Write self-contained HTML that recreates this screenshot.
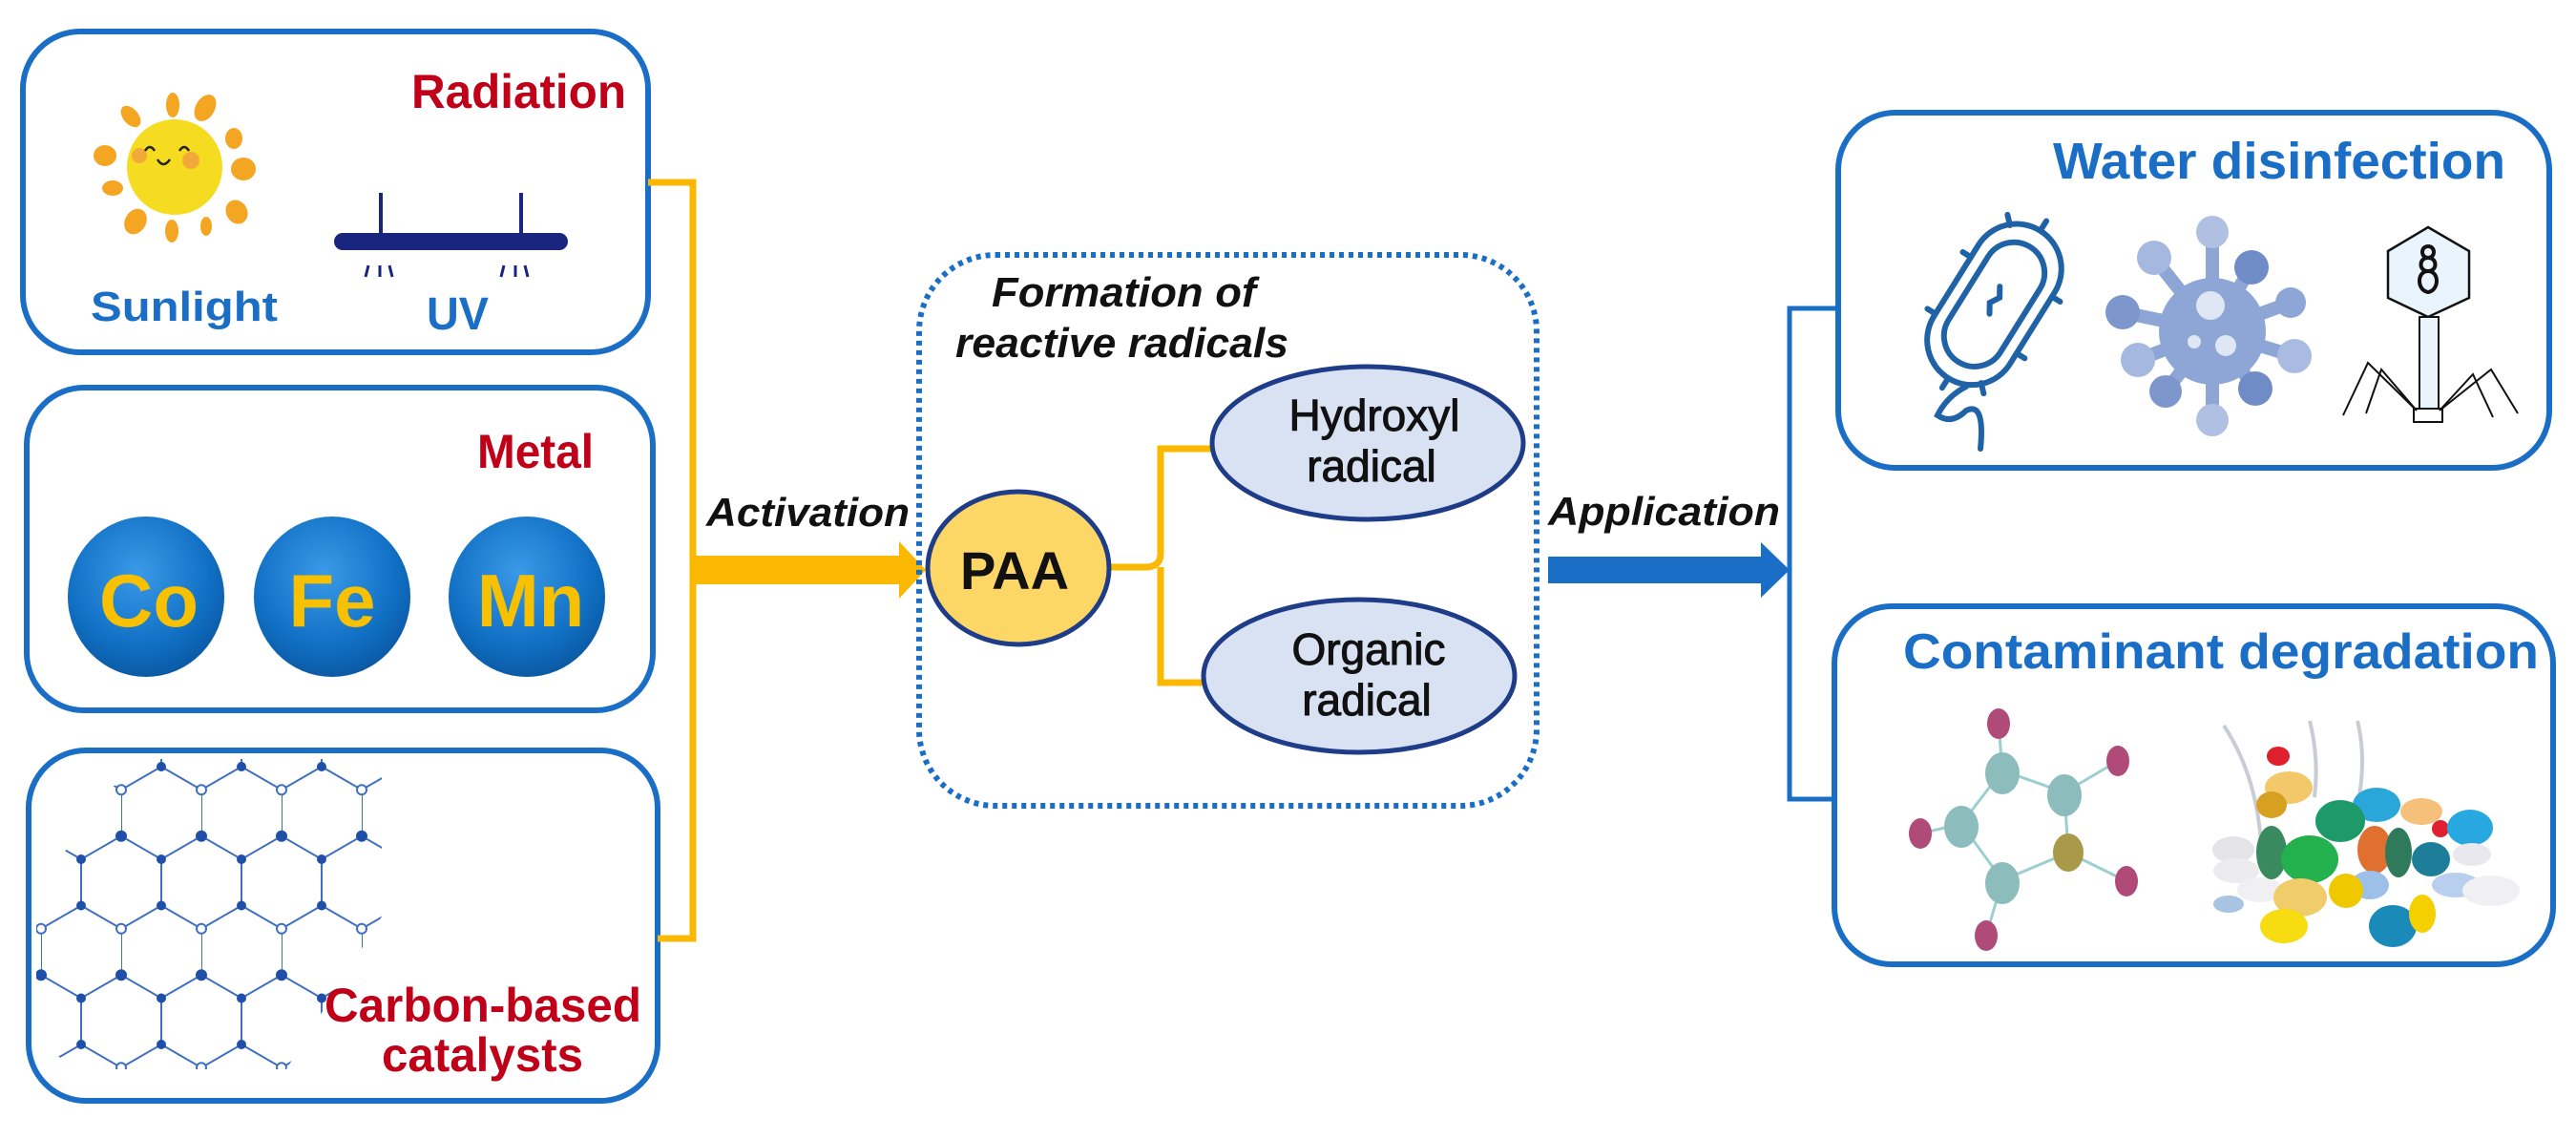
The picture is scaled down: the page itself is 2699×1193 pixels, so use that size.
<!DOCTYPE html>
<html><head><meta charset="utf-8"><style>
html,body{margin:0;padding:0;background:#fff;}
svg{display:block;}
text{font-family:"Liberation Sans",Arial,sans-serif;}
</style></head><body>
<svg width="2699" height="1193" viewBox="0 0 2699 1193" xmlns="http://www.w3.org/2000/svg">
<defs>
<radialGradient id="mg" cx="45%" cy="35%" r="65%">
<stop offset="0" stop-color="#3a9ae8"/><stop offset="0.7" stop-color="#1170c4"/><stop offset="1" stop-color="#0b5aa6"/>
</radialGradient>
<pattern id="hex" x="43" y="803" width="84" height="145.5" patternUnits="userSpaceOnUse">
<path d="M0,24.25 L42,0 L84,24.25 M0,24.25 V72.75 L42,97 L84,72.75 M42,97 V145.5" fill="none" stroke="#3f6fc0" stroke-width="2"/>
<circle cx="42" cy="0" r="5" fill="#1f4fa8"/><circle cx="0" cy="24.25" r="5" fill="#fff" stroke="#3f6fc0" stroke-width="2"/>
<circle cx="84" cy="24.25" r="5" fill="#fff" stroke="#3f6fc0" stroke-width="2"/>
<circle cx="0" cy="72.75" r="6" fill="#1f4fa8"/><circle cx="84" cy="72.75" r="6" fill="#1f4fa8"/>
<circle cx="42" cy="97" r="5" fill="#1f4fa8"/><circle cx="42" cy="145.5" r="5" fill="#1f4fa8"/>
</pattern>
<clipPath id="latclip"><polygon points="125,795 400,795 400,960 350,1040 300,1120 80,1120 38,1090 38,920 80,880 90,840 125,820"/></clipPath>
</defs>

<!-- Left boxes -->
<g fill="none" stroke="#1a6ec6" stroke-width="6">
<rect x="24" y="33" width="655" height="336" rx="60"/>
<rect x="28" y="406" width="656" height="338" rx="60"/>
<rect x="30" y="786" width="659" height="367" rx="60"/>
</g>
<text x="431" y="113" font-size="50" font-weight="bold" fill="#c00018" textLength="225" lengthAdjust="spacingAndGlyphs">Radiation</text>
<!-- sun -->
<g fill="#f4a623">
<ellipse cx="181" cy="110" rx="7" ry="13"/><ellipse cx="215" cy="113" rx="10" ry="15" transform="rotate(30 215 113)"/>
<ellipse cx="137" cy="122" rx="8" ry="13" transform="rotate(-40 137 122)"/><ellipse cx="245" cy="145" rx="9" ry="11"/>
<ellipse cx="110" cy="163" rx="12" ry="11"/><ellipse cx="255" cy="177" rx="13" ry="12"/>
<ellipse cx="118" cy="197" rx="11" ry="8"/><ellipse cx="248" cy="222" rx="11" ry="13" transform="rotate(-30 248 222)"/>
<ellipse cx="142" cy="232" rx="11" ry="14" transform="rotate(30 142 232)"/><ellipse cx="180" cy="242" rx="7" ry="12"/><ellipse cx="216" cy="237" rx="6" ry="10"/>
</g>
<circle cx="183" cy="175" r="50" fill="#f6dc20"/>
<circle cx="146" cy="163" r="8" fill="#f3a93a"/><circle cx="200" cy="168" r="9" fill="#f3a93a"/>
<path d="M152 158 q5 -8 10 0 M188 158 q5 -8 10 0 M165 167 q6 10 13 0" fill="none" stroke="#222" stroke-width="2.5"/>
<!-- UV lamp -->
<rect x="350" y="244" width="245" height="18" rx="9" fill="#1a2580"/>
<rect x="397" y="202" width="4" height="44" fill="#1a2580"/><rect x="544" y="202" width="4" height="44" fill="#1a2580"/>
<path d="M386 278 l-3 12 M398 278 v12 M408 278 l3 12 M528 278 l-3 12 M540 278 v12 M550 278 l3 12" stroke="#1a2580" stroke-width="3"/>
<text x="95" y="336" font-size="44" font-weight="bold" fill="#1a6ec6" textLength="196" lengthAdjust="spacingAndGlyphs">Sunlight</text>
<text x="447" y="345" font-size="48" font-weight="bold" fill="#1a6ec6" textLength="65" lengthAdjust="spacingAndGlyphs">UV</text>

<text x="500" y="490" font-size="50" font-weight="bold" fill="#c00018" textLength="122" lengthAdjust="spacingAndGlyphs">Metal</text>
<ellipse cx="153" cy="625" rx="82" ry="84" fill="url(#mg)"/>
<ellipse cx="348" cy="625" rx="82" ry="84" fill="url(#mg)"/>
<ellipse cx="552" cy="625" rx="82" ry="84" fill="url(#mg)"/>
<g font-size="78" font-weight="bold" fill="#f7c000" text-anchor="middle">
<text x="156" y="656">Co</text><text x="348" y="656">Fe</text><text x="556" y="656">Mn</text>
</g>

<rect x="30" y="790" width="380" height="340" fill="url(#hex)" clip-path="url(#latclip)"/>
<text x="340" y="1070" font-size="50" font-weight="bold" fill="#c00018" textLength="332" lengthAdjust="spacingAndGlyphs">Carbon-based</text>
<text x="400" y="1122" font-size="50" font-weight="bold" fill="#c00018" textLength="211" lengthAdjust="spacingAndGlyphs">catalysts</text>

<!-- yellow bracket & arrow -->
<path d="M679 191 H726 V983 H689" fill="none" stroke="#fbb800" stroke-width="7"/>
<rect x="726" y="582" width="218" height="30" fill="#fbb800"/>
<polygon points="942,567 970,597 942,627" fill="#fbb800"/>
<text x="740" y="551" font-size="42" font-weight="bold" font-style="italic" fill="#111" textLength="213" lengthAdjust="spacingAndGlyphs">Activation</text>

<!-- dotted box -->
<rect x="963" y="267" width="647" height="577" rx="80" fill="none" stroke="#1a6ec6" stroke-width="6" stroke-dasharray="5 5"/>
<text x="1039" y="321" font-size="44" font-weight="bold" font-style="italic" fill="#111" textLength="277" lengthAdjust="spacingAndGlyphs">Formation of</text>
<text x="1001" y="374" font-size="44" font-weight="bold" font-style="italic" fill="#111" textLength="349" lengthAdjust="spacingAndGlyphs">reactive radicals</text>
<path d="M1163 594 H1200 Q1216 594 1216 580 V470 H1270 M1216 594 V715 H1262" fill="none" stroke="#fbb800" stroke-width="7"/>
<ellipse cx="1067" cy="595" rx="95" ry="80" fill="#fdd766" stroke="#1f3c88" stroke-width="5"/>
<text x="1063" y="617" font-size="56" font-weight="bold" fill="#111" text-anchor="middle">PAA</text>
<ellipse cx="1433" cy="464" rx="163" ry="80" fill="#d8e2f3" stroke="#1f3c88" stroke-width="5"/>
<ellipse cx="1424" cy="708" rx="163" ry="80" fill="#d8e2f3" stroke="#1f3c88" stroke-width="5"/>
<g font-size="46" fill="#111" stroke="#111" stroke-width="1" text-anchor="middle">
<text x="1440" y="451">Hydroxyl</text><text x="1437" y="504">radical</text>
<text x="1434" y="696">Organic</text><text x="1432" y="749">radical</text>
</g>

<!-- application arrow -->
<text x="1622" y="550" font-size="42" font-weight="bold" font-style="italic" fill="#111" textLength="243" lengthAdjust="spacingAndGlyphs">Application</text>
<rect x="1622" y="583" width="226" height="28" fill="#1a6ec6"/>
<polygon points="1845,568 1875,597 1845,626" fill="#1a6ec6"/>
<path d="M1926 323 H1875 V837 H1922" fill="none" stroke="#1a6ec6" stroke-width="5"/>

<!-- right boxes -->
<g fill="none" stroke="#1a6ec6" stroke-width="6">
<rect x="1926" y="118" width="745" height="372" rx="60"/>
<rect x="1922" y="635" width="753" height="375" rx="60"/>
</g>
<text x="2151" y="187" font-size="54" font-weight="bold" fill="#1a6ec6" textLength="474" lengthAdjust="spacingAndGlyphs">Water disinfection</text>
<text x="1994" y="700" font-size="52" font-weight="bold" fill="#1a6ec6" textLength="666" lengthAdjust="spacingAndGlyphs">Contaminant degradation</text>

<!-- bacterium -->
<g transform="rotate(32 2090 318)" fill="none" stroke="#1f62a6" stroke-width="6" stroke-linecap="round">
<rect x="2043" y="228" width="94" height="182" rx="47"/>
<rect x="2058" y="248" width="64" height="142" rx="32"/>
<path d="M2090 228 v-12 M2137 280 h10 M2137 350 h10 M2043 290 h-10 M2043 360 h-10 M2090 410 v12 M2060 240 l-8 -8 M2122 396 l8 8"/>
<path d="M2085 300 l6 10 l-6 10 l6 10"/>
</g>
<path d="M2060 405 q-20 10 -30 30 q15 10 30 -5 q20 -10 15 40" fill="none" stroke="#1f62a6" stroke-width="6" stroke-linecap="round"/>
<!-- virus -->
<g fill="#8ea6d6">
<g stroke="#8ea6d6" stroke-width="14">
<path d="M2318 347 L2318 243 M2318 347 L2257 270 M2318 347 L2359 280 M2318 347 L2224 327 M2318 347 L2400 317 M2318 347 L2240 377 M2318 347 L2404 373 M2318 347 L2269 410 M2318 347 L2363 407 M2318 347 L2318 440"/>
</g>
<circle cx="2318" cy="243" r="17" fill="#b0c0e2"/><circle cx="2257" cy="270" r="18" fill="#a5b8e0"/><circle cx="2359" cy="280" r="18" fill="#6f8cc6"/>
<circle cx="2224" cy="327" r="18" fill="#7d96cc"/><circle cx="2400" cy="317" r="16" fill="#8ea6d6"/><circle cx="2240" cy="377" r="18" fill="#a5b8e0"/>
<circle cx="2404" cy="373" r="18" fill="#a9bbe1"/><circle cx="2269" cy="410" r="17" fill="#7d96cc"/><circle cx="2363" cy="407" r="18" fill="#6f8cc6"/>
<circle cx="2318" cy="440" r="17" fill="#b0c0e2"/>
<circle cx="2318" cy="347" r="56"/>
</g>
<circle cx="2316" cy="320" r="15" fill="#dfe6f4"/><circle cx="2332" cy="362" r="11" fill="#dfe6f4"/><circle cx="2299" cy="358" r="7" fill="#dfe6f4"/>
<!-- phage -->
<polygon points="2544,238 2587,263 2587,312 2544,332 2502,312 2502,263" fill="#eaf4fd" stroke="#111" stroke-width="2.5"/>
<path d="M2544 258 c-8 0 -8 12 0 12 c-10 0 -10 14 0 14 c-12 0 -12 20 0 22 c12 -2 12 -22 0 -22 c10 0 10 -14 0 -14 c8 0 8 -12 0 -12" fill="none" stroke="#111" stroke-width="4"/>
<rect x="2535" y="332" width="20" height="98" fill="#eaf4fd" stroke="#111" stroke-width="2"/>
<rect x="2529" y="428" width="30" height="14" fill="#fff" stroke="#111" stroke-width="2"/>
<path d="M2532 430 L2481 380 L2455 435 M2532 430 L2495 387 L2479 433 M2556 430 L2591 392 L2612 437 M2556 430 L2610 387 L2638 433" fill="none" stroke="#111" stroke-width="2"/>

<!-- molecule -->
<g stroke-width="3">
<path d="M2094 758 L2098 807 L2163 830 L2219 797 M2098 807 L2055 863 L2012 873 M2163 830 L2167 893 L2228 923 M2167 893 L2098 922 L2055 863 M2098 922 L2081 980" stroke="#9ccfd0" fill="none"/>
</g>
<g fill="#b04a78"><ellipse cx="2094" cy="758" rx="12" ry="16"/><ellipse cx="2219" cy="797" rx="12" ry="16"/><ellipse cx="2012" cy="873" rx="12" ry="16"/><ellipse cx="2228" cy="923" rx="12" ry="16"/><ellipse cx="2081" cy="980" rx="12" ry="16"/></g>
<g fill="#8cbcbc"><ellipse cx="2098" cy="810" rx="18" ry="22"/><ellipse cx="2163" cy="833" rx="18" ry="22"/><ellipse cx="2055" cy="866" rx="18" ry="22"/><ellipse cx="2098" cy="925" rx="18" ry="22"/></g>
<ellipse cx="2167" cy="893" rx="16" ry="20" fill="#a89a48"/>

<!-- pills -->
<g>
<path d="M2330 760 q40 60 40 150 M2420 755 q10 40 5 80 M2470 755 q10 40 0 90" fill="none" stroke="#c8ccd4" stroke-width="4"/>
<ellipse cx="2340" cy="890" rx="22" ry="14" fill="#e4e4e8"/><ellipse cx="2343" cy="912" rx="24" ry="13" fill="#ececef"/>
<ellipse cx="2335" cy="947" rx="16" ry="9" fill="#a8c4e2"/><ellipse cx="2368" cy="932" rx="24" ry="13" fill="#f0f0f2"/>
<ellipse cx="2387" cy="792" rx="12" ry="10" fill="#e0202c"/><ellipse cx="2398" cy="825" rx="25" ry="17" fill="#f2c86a"/>
<ellipse cx="2380" cy="843" rx="16" ry="14" fill="#d8a020"/><ellipse cx="2380" cy="893" rx="16" ry="28" fill="#3a8a60"/>
<ellipse cx="2490" cy="843" rx="25" ry="18" fill="#2aa6d8"/><ellipse cx="2537" cy="850" rx="22" ry="14" fill="#f5c07a"/>
<ellipse cx="2557" cy="868" rx="9" ry="9" fill="#e02030"/><ellipse cx="2588" cy="867" rx="24" ry="19" fill="#28a8e0"/>
<ellipse cx="2452" cy="860" rx="26" ry="22" fill="#1e9a6a"/><ellipse cx="2420" cy="900" rx="30" ry="25" fill="#22b14c"/>
<ellipse cx="2488" cy="890" rx="18" ry="25" fill="#e07030"/><ellipse cx="2513" cy="893" rx="14" ry="26" fill="#2f7a5a"/>
<ellipse cx="2547" cy="900" rx="20" ry="18" fill="#1e7e9a"/><ellipse cx="2590" cy="895" rx="20" ry="12" fill="#e8e8ee"/>
<ellipse cx="2483" cy="927" rx="20" ry="15" fill="#9cc0e8"/><ellipse cx="2573" cy="927" rx="25" ry="13" fill="#b8cfee"/>
<ellipse cx="2610" cy="933" rx="30" ry="16" fill="#f0f0f4"/><ellipse cx="2410" cy="940" rx="28" ry="20" fill="#f0cc6a"/>
<ellipse cx="2458" cy="933" rx="18" ry="18" fill="#f0c800"/><ellipse cx="2393" cy="970" rx="25" ry="18" fill="#f6dc10"/>
<ellipse cx="2507" cy="970" rx="25" ry="22" fill="#1a8ab8"/><ellipse cx="2538" cy="957" rx="14" ry="20" fill="#f5d000"/>
</g>
</svg>
</body></html>
